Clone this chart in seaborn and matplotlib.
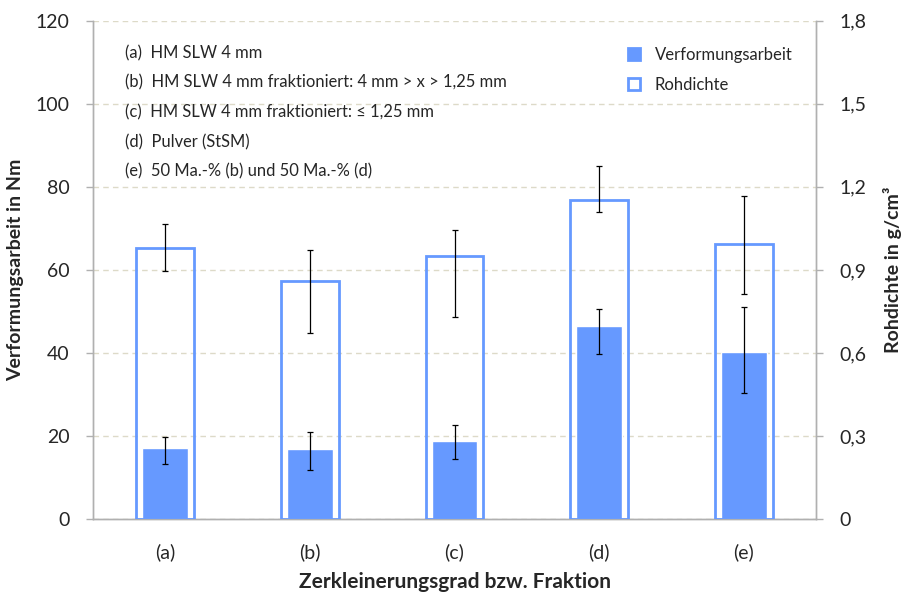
import matplotlib
matplotlib.use("Agg")
import matplotlib.pyplot as plt
import seaborn as sns
import pandas as pd
import numpy as np
from matplotlib.ticker import FixedLocator, FuncFormatter

categories = ["(a)", "(b)", "(c)", "(d)", "(e)"]
verformung = [17.1, 16.9, 18.8, 46.6, 40.2]
verf_err_lo = [3.9, 5.1, 4.3, 6.9, 9.9]
verf_err_hi = [2.8, 4.2, 3.8, 4.0, 11.0]
rohdichte = [0.981, 0.860, 0.950, 1.154, 0.995]
roh_err_lo = [0.083, 0.186, 0.220, 0.045, 0.182]
roh_err_hi = [0.085, 0.113, 0.095, 0.123, 0.173]
notes = [
    "(a)  HM SLW 4 mm",
    "(b)  HM SLW 4 mm fraktioniert: 4 mm > x > 1,25 mm",
    "(c)  HM SLW 4 mm fraktioniert: \u2264 1,25 mm",
    "(d)  Pulver (StSM)",
    "(e)  50 Ma.-% (b) und 50 Ma.-% (d)",
]
left_ticks = [0, 20, 40, 60, 80, 100, 120]
right_ticks = [0, 0.3, 0.6, 0.9, 1.2, 1.5, 1.8]

sns.set_theme(style="white")
plt.rcParams["font.family"] = ["Lato", "DejaVu Sans"]

blue = "#6699FF"
grid_c = "#dddac8"
spine_c = "#b0b0b0"

df = pd.DataFrame({"cat": categories, "verf": verformung, "roh": rohdichte})

fig = plt.figure(figsize=(9.04, 5.94), dpi=100)
ax = fig.add_axes([0.1029, 0.1258, 0.7998, 0.8394])
ax2 = ax.twinx()

sns.barplot(data=df, x="cat", y="verf", ax=ax, color=blue, width=0.316,
            errorbar=None, saturation=1, label="Verformungsarbeit", zorder=3)
ax.errorbar(np.arange(len(categories)), verformung,
            yerr=[verf_err_lo, verf_err_hi], fmt="none", ecolor="black",
            elinewidth=0.9, capsize=2.2, capthick=0.9, zorder=5)

sns.barplot(data=df, x="cat", y="roh", ax=ax2, fill=False, width=0.40,
            errorbar=None, label="Rohdichte", zorder=3)
for p in ax2.patches:
    p.set_edgecolor(blue)
    p.set_linewidth(2.0)
    p.set_facecolor("none")
ax2.errorbar(np.arange(len(categories)), rohdichte,
             yerr=[roh_err_lo, roh_err_hi], fmt="none", ecolor="black",
             elinewidth=0.9, capsize=2.2, capthick=0.9, zorder=5)

ax.set_xlim(-0.5, len(categories) - 0.5)
ax.set_ylim(0, 120)
ax2.set_ylim(0, 1.8)
ax.yaxis.set_major_locator(FixedLocator(left_ticks))
ax2.yaxis.set_major_locator(FixedLocator(right_ticks))
ax2.yaxis.set_major_formatter(FuncFormatter(lambda v, p: ("%g" % round(v, 1)).replace(".", ",")))

ax.grid(axis="y", color=grid_c, linestyle=(0, (4, 3)), linewidth=1.0, zorder=0)
ax.set_axisbelow(True)

for a in (ax, ax2):
    a.spines["top"].set_visible(False)
    for s in ("left", "right", "bottom"):
        a.spines[s].set_color(spine_c)
        a.spines[s].set_linewidth(1.0)

ax.xaxis.set_minor_locator(FixedLocator(np.arange(-0.5, len(categories), 1.0)))
ax.tick_params(axis="x", which="major", length=0, pad=17, labelsize=14)
ax.tick_params(axis="x", which="minor", length=6, color=spine_c, width=1.0)
ax.tick_params(axis="y", length=5, color=spine_c, width=1.0, labelsize=14, pad=12)
ax2.tick_params(axis="y", length=5, color=spine_c, width=1.0, labelsize=14, pad=12)

ax.set_xlabel("Zerkleinerungsgrad bzw. Fraktion", fontsize=15, fontweight="bold", labelpad=8)
ax.set_ylabel("Verformungsarbeit in Nm", fontsize=14, fontweight="bold", labelpad=8)
ax2.set_ylabel("Rohdichte in g/cm\u00b3", fontsize=14, fontweight="bold", labelpad=12)

if ax.legend_:
    ax.legend_.remove()
h1, l1 = ax.get_legend_handles_labels()
h2, l2 = ax2.get_legend_handles_labels()
if ax2.legend_:
    ax2.legend_.remove()
leg = ax2.legend(h1 + h2, l1 + l2, loc="upper right", bbox_to_anchor=(0.988, 0.978),
                 frameon=False, fontsize=12, handlelength=0.7, handleheight=0.7,
                 handletextpad=0.9, labelspacing=0.85)
for h in leg.legend_handles:
    h.set_edgecolor(blue)
    h.set_linewidth(2.0)

for i, t in enumerate(notes):
    fig.text(125 / 904, 1 - (53 + i * 29.7) / 594, t, fontsize=11.9, va="center", ha="left")

fig.savefig("out.png", dpi=100)
